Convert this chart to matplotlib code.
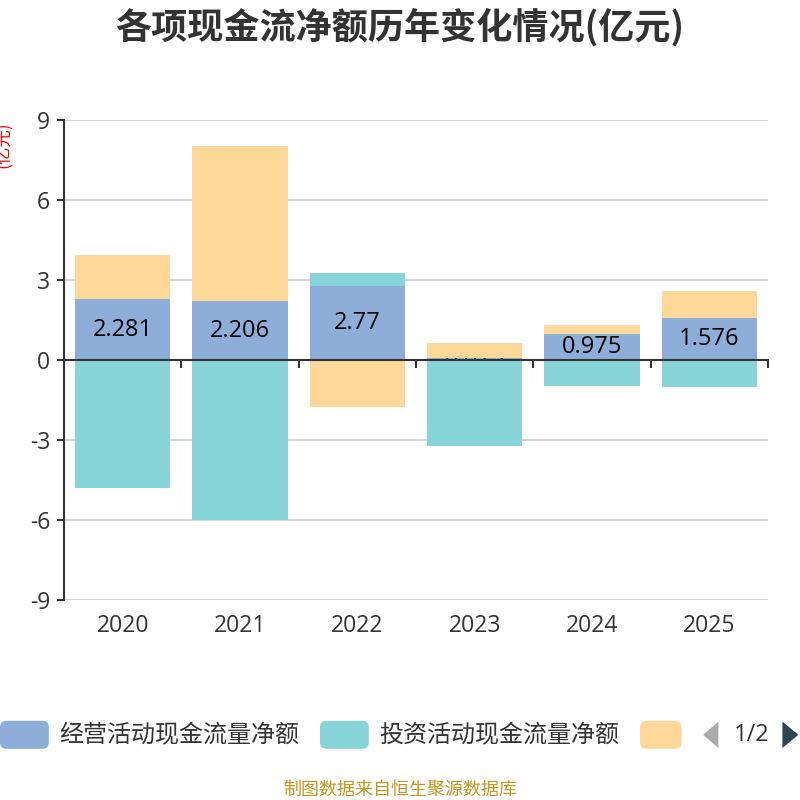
import numpy as np
import matplotlib
matplotlib.use('Agg')
import matplotlib.pyplot as plt
from matplotlib.patches import FancyBboxPatch, Polygon
from matplotlib.transforms import Bbox, TransformedBbox

plt.rcParams['font.family'] = ['Noto Sans CJK SC', 'DejaVu Sans']
num_font = ['Open Sans', 'DejaVu Sans']

# 数据
years = ['2020', '2021', '2022', '2023', '2024', '2025']
op_cf = [2.281, 2.206, 2.77, 0.073, 0.975, 1.576]      # 经营活动现金流量净额
inv_cf = [-4.80, -6.01, 0.49, -3.22, -0.98, -1.01]     # 投资活动现金流量净额
fin_cf = [1.66, 5.82, -1.76, 0.57, 0.34, 1.01]         # 筹资活动现金流量净额
series_names = ['经营活动现金流量净额', '投资活动现金流量净额', '筹资活动现金流量净额']
colors = ['#8EAEDA', '#87D5D8', '#FED898']
yticks = [-9, -6, -3, 0, 3, 6, 9]

fig = plt.figure(figsize=(8, 8), dpi=100)
ax = fig.add_axes([0.08, 0.25, 0.88, 0.60])

x = np.arange(len(years))
width = 0.81
pos_base = np.zeros(len(years))
neg_base = np.zeros(len(years))
op_bars = None
for vals, c in zip([op_cf, inv_cf, fin_cf], colors):
    vals = np.array(vals)
    bottoms = np.where(vals >= 0, pos_base, neg_base)
    bars = ax.bar(x, vals, width, bottom=bottoms, color=c, zorder=2)
    if op_bars is None:
        op_bars = bars
    pos_base = pos_base + np.where(vals >= 0, vals, 0)
    neg_base = neg_base + np.where(vals < 0, vals, 0)

# 标签（超出柱子的部分裁掉）
for b, v in zip(op_bars, op_cf):
    t = ax.text(b.get_x() + b.get_width() / 2, b.get_y() + b.get_height() / 2,
                f'{v:g}', ha='center', va='center', fontsize=17, color='black',
                zorder=3, family=num_font)
    box = Bbox.from_bounds(b.get_x(), b.get_y(), b.get_width(), b.get_height())
    t.set_clip_box(TransformedBbox(box, ax.transData))
    t.set_clip_on(True)

ax.set_xlim(-0.5, len(years) - 0.5)
ax.set_ylim(-9, 9)
ax.set_yticks(yticks)
ax.set_yticklabels([str(v) for v in yticks], family=num_font)
ax.tick_params(axis='y', length=5, width=1.5, color='#333333', labelsize=16.5,
               labelcolor='#333333', pad=5)
for v in yticks:
    if v != 0:
        ax.axhline(v, color='#cccccc', lw=1.2, zorder=1)

ax.spines['top'].set_visible(False)
ax.spines['right'].set_visible(False)
ax.spines['left'].set_color('#333333')
ax.spines['left'].set_linewidth(1.5)
ax.spines['bottom'].set_position(('data', 0))
ax.spines['bottom'].set_color('#333333')
ax.spines['bottom'].set_linewidth(1.5)
ax.spines['bottom'].set_zorder(4)
ax.set_xticks(x + 0.5)
ax.set_xticklabels([])
ax.tick_params(axis='x', length=6, width=1.5, color='#333333')

sec = ax.secondary_xaxis('bottom')
sec.set_xticks(x)
sec.set_xticklabels(years, family=num_font)
sec.tick_params(length=0, labelsize=16.5, labelcolor='#333333', pad=10)
sec.spines['bottom'].set_visible(False)

fig.text(0.5, 0.966, '各项现金流净额历年变化情况(亿元)', ha='center', va='center',
         fontsize=26, fontweight='bold', color='#333333')
fig.text(0.005, 0.819, '(亿元)', ha='center', va='center', rotation=90,
         fontsize=12.5, color='red')

# 图例
leg_y = 0.0815
handles = [(0.0, series_names[0]), (0.40, series_names[1]), (0.80, '')]
for (hx, name), c in zip(handles, colors):
    w = 0.061 if name else 0.052
    fig.patches.append(FancyBboxPatch((hx, leg_y - 0.0175), w, 0.035,
                                      boxstyle='round,pad=0,rounding_size=0.008',
                                      transform=fig.transFigure, facecolor=c,
                                      edgecolor='none'))
    if name:
        fig.text(hx + 0.074, leg_y, name, ha='left', va='center', fontsize=17.3,
                 color='#333333')
fig.patches.append(Polygon([[0.898, leg_y + 0.0165], [0.898, leg_y - 0.0165],
                            [0.879, leg_y]], closed=True, transform=fig.transFigure,
                           facecolor='#aaaaaa', edgecolor='none'))
fig.text(0.939, leg_y, '1/2', ha='center', va='center', fontsize=17,
         color='#333333', family=num_font)
fig.patches.append(Polygon([[0.978, leg_y + 0.0165], [0.978, leg_y - 0.0165],
                            [0.998, leg_y]], closed=True, transform=fig.transFigure,
                           facecolor='#2f4554', edgecolor='none'))

fig.text(0.5, 0.013, '制图数据来自恒生聚源数据库', ha='center', va='center',
         fontsize=13, color='#C8961E')

fig.savefig('out.png', dpi=100)
